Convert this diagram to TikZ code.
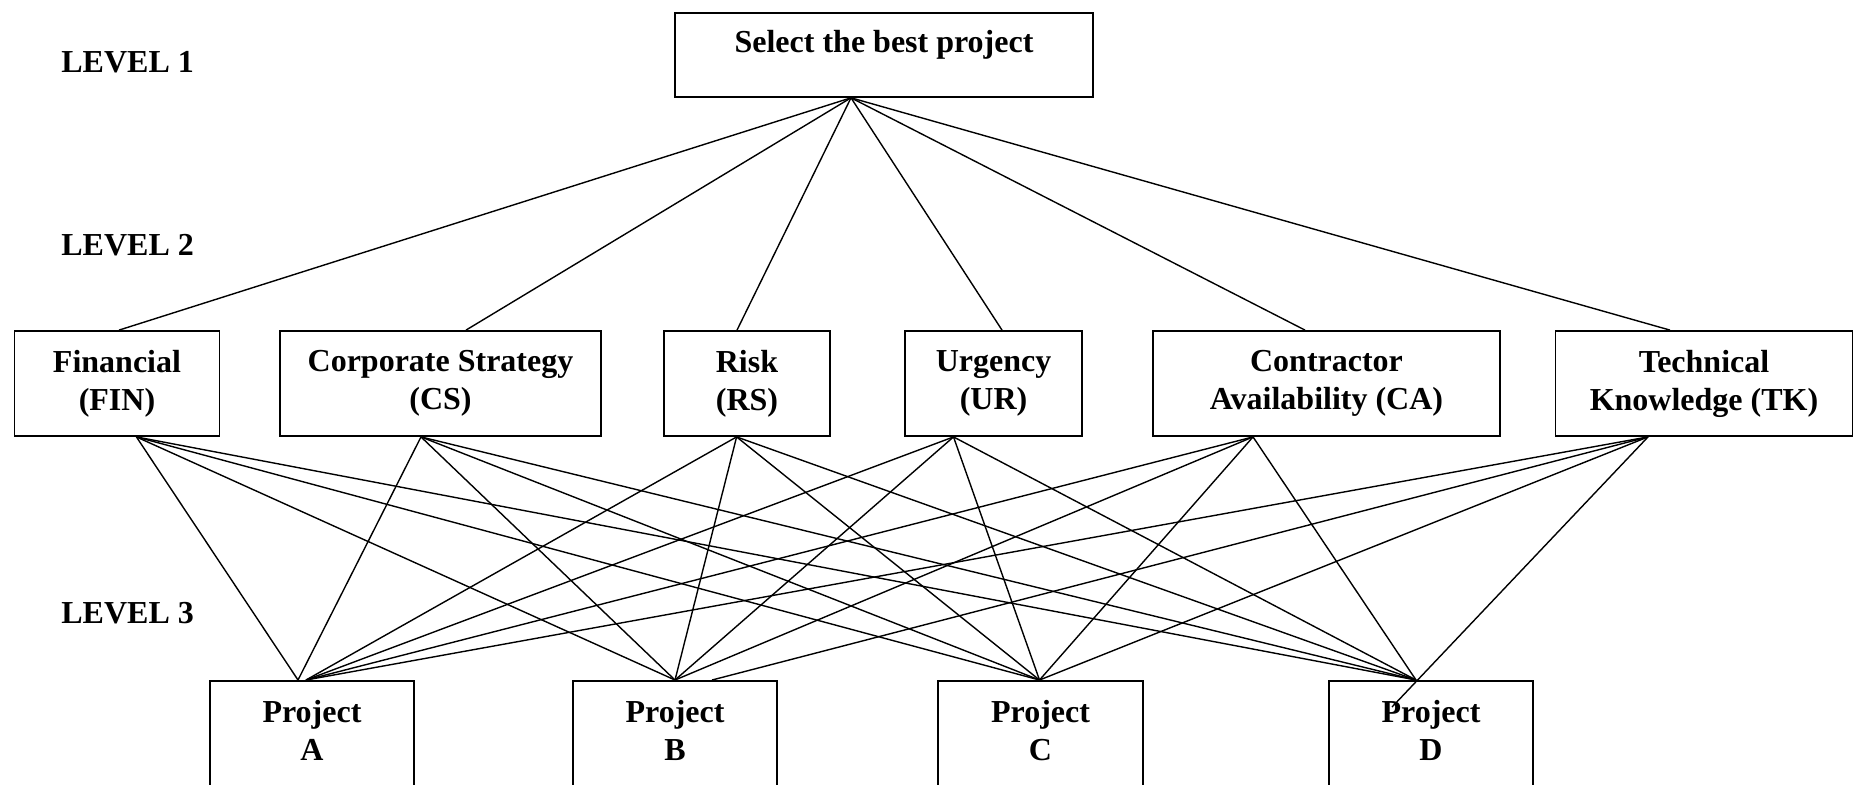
\documentclass[tikz,border=0pt]{standalone}
\usepackage{fontspec}
\setmainfont{Liberation Serif}

\begin{document}
\begin{tikzpicture}[x=0.5pt, y=-0.5pt, font=\fontsize{16}{19}\selectfont\bfseries,
		goalbox/.style = {draw, line width=0.9pt, anchor=north, minimum width=209pt, inner ysep=9pt, text height=11pt, text depth=13pt},
		crit/.style = {draw, line width=0.9pt, align=center, minimum height=52.5pt, inner sep=2pt},
		proj/.style = {draw, line width=0.9pt, align=center, anchor=north, minimum width=102pt, inner ysep=9.5pt, text depth=30pt},
		level/.style = {anchor=base west, inner sep=0pt},
		link/.style = {line width=0.7pt}]
			\useasboundingbox (0,0) rectangle (1855,784);
			\clip (0,0) rectangle (1855,784);
			% levels
			\node[level] (lv1) at (61,72) {LEVEL 1};
			\node[level] (lv2) at (61,255) {LEVEL 2};
			\node[level] (lv3) at (61,623) {LEVEL 3};
			% goal
			\node[goalbox] (goal) at (884,12) {Select the best project};
			% criteria
			\node[crit, minimum width=102.5pt] (fin) at (117,383.5) {Financial\\(FIN)};
			\node[crit, minimum width=160.5pt] (cs) at (440.5,383.5) {Corporate Strategy\\(CS)};
			\node[crit, minimum width=83pt] (rs) at (747,383.5) {Risk\\(RS)};
			\node[crit, minimum width=88.5pt] (ur) at (993.5,383.5) {Urgency\\(UR)};
			\node[crit, minimum width=173.5pt] (ca) at (1326.5,383.5) {Contractor\\Availability (CA)};
			\node[crit, minimum width=148.5pt] (tk) at (1704,383.5) {Technical\\Knowledge (TK)};
			% alternatives
			\node[proj] (pa) at (312,680) {Project\\A};
			\node[proj] (pb) at (675,680) {Project\\B};
			\node[proj, minimum width=102.5pt] (pc) at (1040.5,680) {Project\\C};
			\node[proj] (pd) at (1431,680) {Project\\D};
			% joints
			\coordinate (goal-b) at ([xshift=-16.5pt]goal.south);
			\coordinate (fin-t) at ([xshift=1pt]fin.north);
			\coordinate (cs-t) at ([xshift=12.75pt]cs.north);
			\coordinate (rs-t) at ([xshift=-5pt]rs.north);
			\coordinate (ur-t) at ([xshift=4.25pt]ur.north);
			\coordinate (ca-t) at ([xshift=-10.75pt]ca.north);
			\coordinate (tk-t) at ([xshift=-17pt]tk.north);
			\coordinate (fin-b) at ([xshift=9.7pt]fin.south);
			\coordinate (cs-b) at ([xshift=-9.75pt]cs.south);
			\coordinate (rs-b) at ([xshift=-5.2pt]rs.south);
			\coordinate (ur-b) at ([xshift=-20pt]ur.south);
			\coordinate (ca-b) at ([xshift=-36.75pt]ca.south);
			\coordinate (tk-b) at ([xshift=-28pt]tk.south);
			\coordinate (pa-t) at ([xshift=-7pt]pa.north);
			\coordinate (pa-r) at ([xshift=-3pt]pa.north);
			\coordinate (pb-t) at (pb.north);
			\coordinate (pb-r) at ([xshift=18.5pt]pb.north);
			\coordinate (pc-t) at ([xshift=-0.5pt]pc.north);
			\coordinate (pd-t) at ([xshift=-7.5pt]pd.north);
			\coordinate (pd-in) at ([xshift=-19.5pt, yshift=-13.5pt]pd.north);
			% level 1 to level 2
			\draw[link] (goal-b) -- (fin-t);
			\draw[link] (goal-b) -- (cs-t);
			\draw[link] (goal-b) -- (rs-t);
			\draw[link] (goal-b) -- (ur-t);
			\draw[link] (goal-b) -- (ca-t);
			\draw[link] (goal-b) -- (tk-t);
			% level 2 to level 3
			\draw[link] (fin-b) -- (pa-t);
			\draw[link] (fin-b) -- (pb-t);
			\draw[link] (fin-b) -- (pc-t);
			\draw[link] (fin-b) -- (pd-t);
			\draw[link] (cs-b) -- (pa-t);
			\draw[link] (cs-b) -- (pb-t);
			\draw[link] (cs-b) -- (pc-t);
			\draw[link] (cs-b) -- (pd-t);
			\draw[link] (rs-b) -- (pa-r);
			\draw[link] (rs-b) -- (pb-t);
			\draw[link] (rs-b) -- (pc-t);
			\draw[link] (rs-b) -- (pd-t);
			\draw[link] (ur-b) -- (pa-r);
			\draw[link] (ur-b) -- (pb-t);
			\draw[link] (ur-b) -- (pc-t);
			\draw[link] (ur-b) -- (pd-t);
			\draw[link] (ca-b) -- (pa-r);
			\draw[link] (ca-b) -- (pb-t);
			\draw[link] (ca-b) -- (pc-t);
			\draw[link] (ca-b) -- (pd-t);
			\draw[link] (tk-b) -- (pa-r);
			\draw[link] (tk-b) -- (pb-r);
			\draw[link] (tk-b) -- (pc-t);
			\draw[link] (tk-b) -- (pd-in);
		\end{tikzpicture}
\end{document}
